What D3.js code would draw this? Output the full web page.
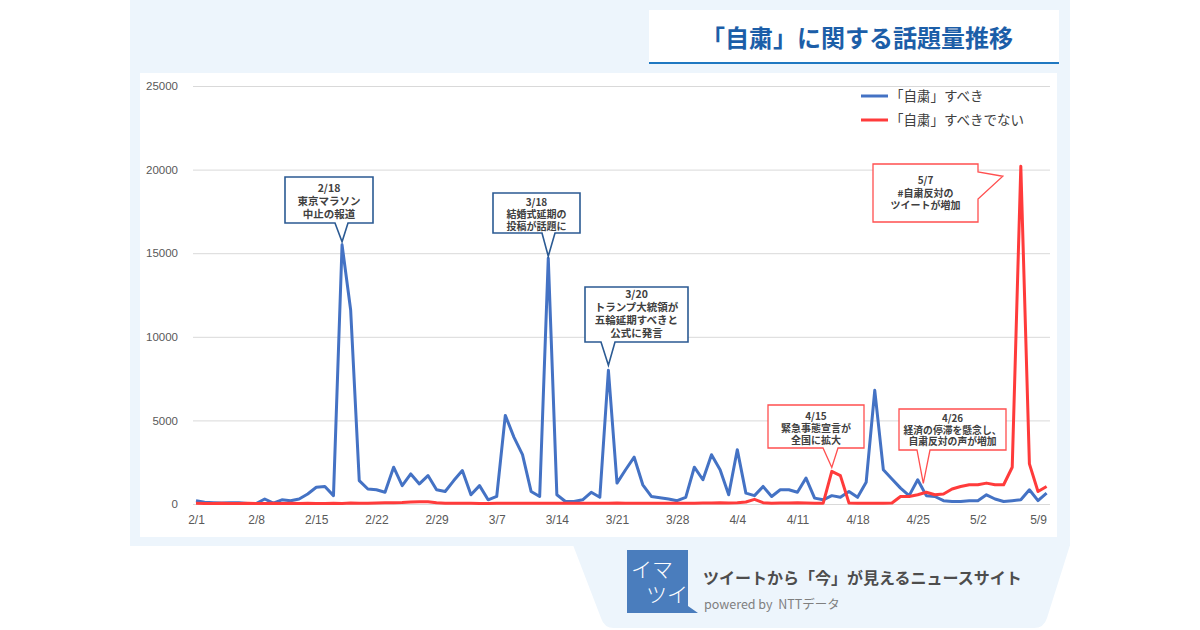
<!DOCTYPE html>
<html>
<head>
<meta charset="utf-8">
<script src="https://cdn.jsdelivr.net/npm/d3@7"></script>
<style>
  body { margin: 0; background: #fff; font-family: "Noto Sans CJK JP", "Noto Sans", sans-serif; }
  text { white-space: pre; }
</style>
</head>
<body>
<script>
// daily counts from 2020-02-01, one per day
var startDate = "2020-02-01";
var shouldValues = [
  200, 100, 80, 60, 80, 80, 30, 30, 300, 50,
  250, 200, 300, 600, 1000, 1050, 500, 15500, 11600, 1400,
  900, 850, 700, 2200, 1100, 1800, 1200, 1700, 850, 750,
  1400, 2000, 550, 1100, 250, 450, 5300, 4000, 2950, 750,
  450, 14700, 550, 150, 150, 250, 700, 400, 8000, 1250,
  2050, 2800, 1150, 450, 380, 300, 200, 400, 2200, 1450,
  2950, 2050, 550, 3250, 650, 500, 1050, 450, 850, 850,
  700, 1550, 350, 250, 500, 400, 750, 400, 1300, 6800,
  2050, 1500, 950, 500, 1450, 500, 450, 200, 150, 150,
  200, 200, 550, 300, 150, 200, 250, 850, 200, 650
];
var shouldNotValues = [
  40, 30, 30, 40, 30, 30, 40, 30, 30, 40,
  30, 40, 30, 40, 30, 30, 40, 30, 60, 40,
  50, 60, 70, 80, 90, 120, 140, 130, 80, 50,
  40, 50, 40, 30, 30, 40, 50, 40, 40, 50,
  40, 40, 50, 40, 40, 50, 40, 40, 50, 60,
  50, 40, 50, 40, 40, 50, 40, 40, 50, 60,
  60, 70, 60, 80, 120, 280, 80, 50, 60, 60,
  70, 60, 50, 50, 1950, 1700, 60, 40, 40, 40,
  50, 60, 450, 450, 550, 700, 550, 600, 900, 1050,
  1150, 1150, 1250, 1150, 1150, 2200, 20200, 2400, 750, 1050
];
var seriesNames = ["「自粛」すべき", "「自粛」すべきでない"];
var seriesColors = ["#4472c4", "#ff3b3b"];
var xTickLabels = ["2/1", "2/8", "2/15", "2/22", "2/29", "3/7", "3/14", "3/21", "3/28", "4/4", "4/11", "4/18", "4/25", "5/2", "5/9"];
var yTickValues = [0, 5000, 10000, 15000, 20000, 25000];

// callout texts: which series / day they point at
var noteDays = ["2/18", "3/13", "3/20", "4/15", "4/26", "5/7"];
var noteSeries = [0, 0, 0, 1, 1, 1];
var noteLines = [
  ["2/18", "東京マラソン", "中止の報道"],
  ["3/18", "結婚式延期の", "投稿が話題に"],
  ["3/20", "トランプ大統領が", "五輪延期すべきと", "公式に発言"],
  ["4/15", "緊急事態宣言が", "全国に拡大"],
  ["4/26", "経済の停滞を懸念し、", "自粛反対の声が増加"],
  ["5/7", "#自粛反対の", "ツイートが増加"]
];

var W = 1200, H = 630;
var svg = d3.select("body").append("svg")
    .attr("width", W)
    .attr("height", H);

// background panel + bottom tab
svg.append("rect").attr("x", 130).attr("y", 0).attr("width", 940).attr("height", 546).attr("fill", "#edf5fc");
svg.append("path")
    .attr("d", "M573,545 L1070,545 L1047,618 Q1044,628 1034,628 L614,628 Q604,628 601,618 Z")
    .attr("fill", "#edf5fc");

// title box
svg.append("rect").attr("x", 649).attr("y", 10).attr("width", 410).attr("height", 53).attr("fill", "#fff");
svg.append("rect").attr("x", 649).attr("y", 62).attr("width", 410).attr("height", 2).attr("fill", "#1f78c1");
svg.append("text")
    .attr("x", 857).attr("y", 47)
    .attr("text-anchor", "middle")
    .attr("font-size", 24).attr("font-weight", "bold")
    .attr("fill", "#1c5ea8")
    .text("「自粛」に関する話題量推移");

// chart area
svg.append("rect").attr("x", 140).attr("y", 73).attr("width", 917).attr("height", 464).attr("fill", "#fff");

var parse = d3.timeParse("%Y-%m-%d");
var t0 = parse(startDate);
var dates = shouldValues.map(function(v, i) { return d3.timeDay.offset(t0, i); });
function md(s) { var p = s.split("/"); return new Date(2020, +p[0] - 1, +p[1]); }

var x = d3.scaleTime()
    .domain([t0, md("5/9")])
    .range([196, 1038]);
var y = d3.scaleLinear()
    .domain([0, 25000])
    .range([504, 86]);

// grid + y labels
var yAxis = svg.append("g")
    .attr("transform", "translate(193,0)")
    .call(d3.axisLeft(y).tickValues(yTickValues).tickSize(-857).tickPadding(15).tickFormat(d3.format("d")));
yAxis.select(".domain").remove();
yAxis.selectAll(".tick line").attr("stroke", "#d9d9d9");
yAxis.selectAll(".tick text").attr("fill", "#595959").attr("font-size", 11.5).attr("font-family", "Liberation Sans, Arial, sans-serif");

var xAxis = svg.append("g")
    .attr("transform", "translate(0,504)")
    .call(d3.axisBottom(x).tickValues(xTickLabels.map(md)).tickSize(0).tickPadding(11).tickFormat(d3.timeFormat("%-m/%-d")));
xAxis.select(".domain").remove();
xAxis.selectAll(".tick text").attr("fill", "#595959").attr("font-size", 12).attr("font-family", "Liberation Sans, Arial, sans-serif");

// lines
var line = d3.line()
    .x(function(d, i) { return x(dates[i]); })
    .y(function(d) { return y(d); });
[shouldValues, shouldNotValues].forEach(function(vals, k) {
  svg.append("path")
      .datum(vals)
      .attr("d", line)
      .attr("fill", "none")
      .attr("stroke", seriesColors[k])
      .attr("stroke-width", 3)
      .attr("stroke-linejoin", "round");
});

// legend
seriesNames.forEach(function(name, k) {
  var ly = 96 + k * 24;
  svg.append("line").attr("x1", 861).attr("x2", 888).attr("y1", ly).attr("y2", ly)
      .attr("stroke", seriesColors[k]).attr("stroke-width", 3);
  svg.append("text").attr("x", 890).attr("y", ly + 5)
      .attr("font-size", 13.5).attr("fill", "#404040").text(name);
});

// callouts: box [x, y, w, h], tail side, tail base, tip offset from data point
var noteBoxes = [
  { box: [285, 177, 88, 46], side: "bottom", base: [335, 348], dx: 0, dy: -3, line0: 188, step: 13, fs: 10.5 },
  { box: [493, 193, 87, 40], side: "bottom", base: [542, 555], dx: 0, dy: -2, line0: 202, step: 12, fs: 10 },
  { box: [585, 287, 103, 55], side: "bottom", base: [601, 615], dx: 0, dy: -5, line0: 294, step: 13, fs: 10.5 },
  { box: [768, 405, 96, 43], side: "bottom", base: [823, 838], dx: 0, dy: -4, line0: 416, step: 12, fs: 10 },
  { box: [899, 409, 107, 41], side: "bottom", base: [917, 930], dx: -3, dy: -9, line0: 418, step: 11.5, fs: 9.8 },
  { box: [873, 164, 105, 58], side: "right", base: [172, 199], dx: -18, dy: 10, line0: 180, step: 12.5, fs: 10 }
];
var noteStroke = ["#2b5a93", "#ff4f4f"];

noteDays.forEach(function(day, i) {
  var L = noteBoxes[i];
  var vals = noteSeries[i] === 0 ? shouldValues : shouldNotValues;
  var di = d3.timeDay.count(t0, md(day));
  var tx = x(md(day)) + L.dx, ty = y(vals[di]) + L.dy;
  var bx = L.box[0], by = L.box[1], bw = L.box[2], bh = L.box[3];
  var p = d3.path();
  p.moveTo(bx, by);
  if (L.side === "bottom") {
    p.lineTo(bx + bw, by);
    p.lineTo(bx + bw, by + bh);
    p.lineTo(L.base[1], by + bh);
    p.lineTo(tx, ty);
    p.lineTo(L.base[0], by + bh);
    p.lineTo(bx, by + bh);
  } else {
    p.lineTo(bx + bw, by);
    p.lineTo(bx + bw, L.base[0]);
    p.lineTo(tx, ty);
    p.lineTo(bx + bw, L.base[1]);
    p.lineTo(bx + bw, by + bh);
    p.lineTo(bx, by + bh);
  }
  p.closePath();
  svg.append("path")
      .attr("d", p.toString())
      .attr("fill", "#fff")
      .attr("stroke", noteStroke[noteSeries[i]])
      .attr("stroke-width", noteSeries[i] === 0 ? 1.6 : 1.3);
  var t = svg.append("text")
      .attr("text-anchor", "middle")
      .attr("font-size", L.fs)
      .attr("font-weight", "bold")
      .attr("fill", "#404040");
  noteLines[i].forEach(function(s, j) {
    t.append("tspan")
        .attr("x", bx + bw / 2)
        .attr("y", L.line0 + j * L.step + 4)
        .text(s);
  });
});

// footer logo
svg.append("path")
    .attr("d", "M627,550 L688,550 L688,606 L698,613 L627,613 Z")
    .attr("fill", "#4a7dbd");
svg.append("text").attr("x", 631).attr("y", 577).attr("font-size", 21).attr("fill", "#fff").attr("font-weight", 300).text("イマ");
svg.append("text").attr("x", 646).attr("y", 602).attr("font-size", 21).attr("fill", "#fff").attr("font-weight", 300).text("ツイ");
svg.append("text").attr("x", 703).attr("y", 584).attr("font-size", 16).attr("font-weight", "bold").attr("fill", "#4d4d4d")
    .text("ツイートから「今」が見えるニュースサイト");
svg.append("text").attr("x", 704).attr("y", 609).attr("font-size", 12.5).attr("fill", "#7f7f7f")
    .text("powered by  NTTデータ");
</script>
</body>
</html>
